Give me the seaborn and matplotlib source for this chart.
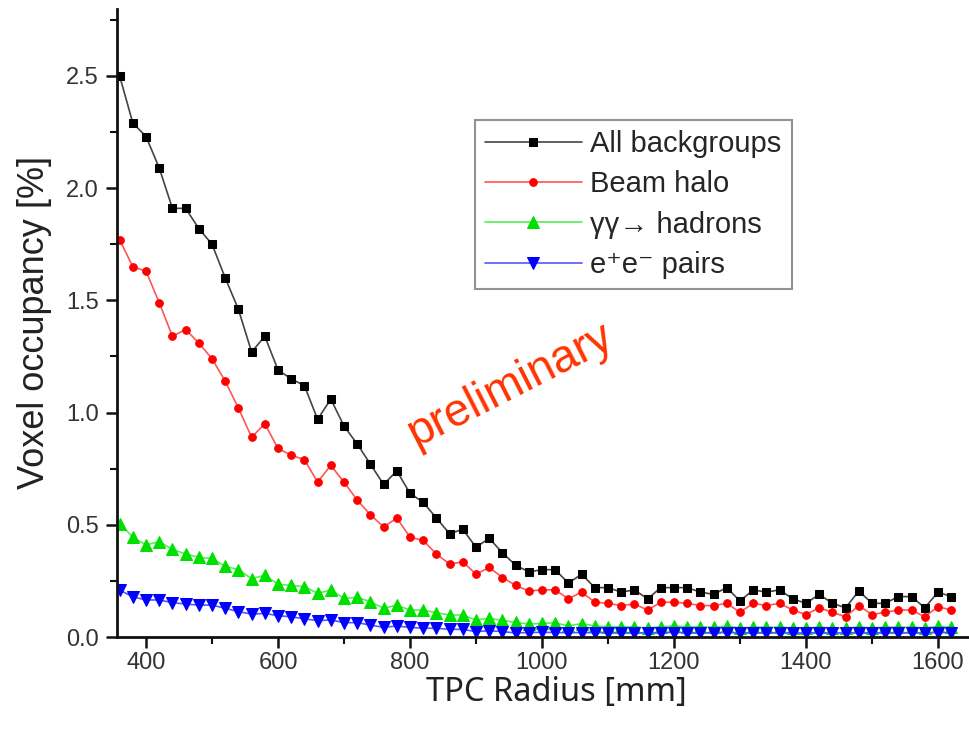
import numpy as np
import pandas as pd
import matplotlib
matplotlib.use("Agg")
import matplotlib.pyplot as plt
import seaborn as sns
from matplotlib.ticker import MultipleLocator

# ---------------- data ----------------
radius = list(range(360, 1621, 20))

all_bkg = [2.50, 2.29, 2.23, 2.09, 1.91, 1.91, 1.82, 1.75, 1.60, 1.46,
           1.27, 1.34, 1.19, 1.15, 1.12, 0.97, 1.06, 0.94, 0.86, 0.77,
           0.68, 0.74, 0.64, 0.60, 0.53, 0.46, 0.48, 0.40, 0.44, 0.375,
           0.32, 0.29, 0.30, 0.30, 0.24, 0.28, 0.22, 0.22, 0.20, 0.21,
           0.17, 0.22, 0.22, 0.22, 0.20, 0.19, 0.22, 0.16, 0.21, 0.20,
           0.21, 0.17, 0.15, 0.19, 0.15, 0.13, 0.205, 0.15, 0.15, 0.18,
           0.18, 0.13, 0.20, 0.18]

beam_halo = [1.77, 1.65, 1.63, 1.49, 1.34, 1.37, 1.31, 1.24, 1.14, 1.02,
             0.89, 0.95, 0.84, 0.81, 0.79, 0.69, 0.765, 0.69, 0.61, 0.545,
             0.49, 0.53, 0.445, 0.43, 0.37, 0.325, 0.335, 0.28, 0.31, 0.265,
             0.23, 0.205, 0.21, 0.21, 0.17, 0.20, 0.155, 0.15, 0.14, 0.147,
             0.12, 0.155, 0.155, 0.15, 0.14, 0.14, 0.15, 0.11, 0.15, 0.14,
             0.15, 0.12, 0.10, 0.13, 0.11, 0.09, 0.14, 0.10, 0.11, 0.12,
             0.12, 0.09, 0.135, 0.12]

gg_hadrons = [0.505, 0.445, 0.41, 0.425, 0.39, 0.37, 0.355, 0.35, 0.315, 0.30,
              0.26, 0.275, 0.235, 0.23, 0.224, 0.195, 0.209, 0.172, 0.177, 0.157,
              0.128, 0.142, 0.12, 0.12, 0.108, 0.098, 0.098, 0.076, 0.083, 0.074,
              0.065, 0.058, 0.061, 0.063, 0.049, 0.060, 0.049, 0.046, 0.046, 0.046,
              0.040, 0.046, 0.049, 0.046, 0.046, 0.043, 0.049, 0.040, 0.044, 0.044,
              0.044, 0.040, 0.040, 0.044, 0.040, 0.040, 0.045, 0.040, 0.044, 0.044,
              0.044, 0.040, 0.048, 0.044]

ee_pairs = [0.209, 0.179, 0.165, 0.165, 0.153, 0.147, 0.142, 0.142, 0.128, 0.113,
            0.102, 0.105, 0.095, 0.090, 0.081, 0.073, 0.076, 0.064, 0.064, 0.053,
            0.043, 0.049, 0.043, 0.039, 0.039, 0.034, 0.034, 0.024, 0.028, 0.024,
            0.018, 0.020, 0.021, 0.020, 0.019, 0.020, 0.019, 0.020, 0.019, 0.019,
            0.018, 0.020, 0.020, 0.019, 0.019, 0.019, 0.020, 0.018, 0.019, 0.019,
            0.019, 0.018, 0.018, 0.019, 0.018, 0.018, 0.019, 0.018, 0.019, 0.019,
            0.019, 0.018, 0.020, 0.019]

series_names = ["All backgroups", "Beam halo", "\u03b3\u03b3\u2192 hadrons", "e\u207ae\u207b pairs"]
x_ticks = [400, 600, 800, 1000, 1200, 1400, 1600]
y_ticks = [0.0, 0.5, 1.0, 1.5, 2.0, 2.5]

# ---------------- styling ----------------
sns.set_style("ticks")
plt.rcParams["font.family"] = ["Liberation Sans", "DejaVu Sans"]

fig = plt.figure(figsize=(9.70, 7.29), dpi=100)
ax = fig.add_axes([0.1206, 0.1262, 0.877, 0.862])

styles = [
    dict(color="#000000", line="#444444", marker="s", ms=6.0),
    dict(color="#ff0000", line="#ff5555", marker="o", ms=5.5),
    dict(color="#00e000", line="#55ee55", marker="^", ms=8.0),
    dict(color="#0000ff", line="#5555ff", marker="v", ms=8.0),
]
data = [all_bkg, beam_halo, gg_hadrons, ee_pairs]

for name, vals, st in zip(series_names, data, styles):
    df = pd.DataFrame({"r": radius, "v": vals})
    sns.lineplot(data=df, x="r", y="v", ax=ax, color=st["line"], lw=1.2,
                 marker=st["marker"], markersize=st["ms"],
                 markerfacecolor=st["color"], markeredgecolor=st["color"],
                 label=name)

ax.set_xlim(356, 1645)
ax.set_ylim(0, 2.8)
ax.set_xticks(x_ticks)
ax.set_yticks(y_ticks)
ax.set_yticklabels([f"{t:.1f}" for t in y_ticks])
ax.xaxis.set_minor_locator(MultipleLocator(100))
ax.yaxis.set_minor_locator(MultipleLocator(0.25))

for s in ["top", "right"]:
    ax.spines[s].set_visible(False)
for s in ["left", "bottom"]:
    ax.spines[s].set_linewidth(2.0)
    ax.spines[s].set_color("#111111")

ax.tick_params(axis="both", which="major", direction="out", length=8, width=1.8,
               labelsize=17, labelcolor="#333333", color="#111111", pad=5)
ax.tick_params(axis="x", which="major", pad=3)
ax.tick_params(axis="both", which="minor", direction="out", length=5, width=1.5,
               color="#111111")

ax.set_xlabel("TPC Radius [mm]", fontsize=23.5, family=["Noto Sans", "DejaVu Sans"],
              color="#222222")
ax.xaxis.set_label_coords(0.517, -0.062)
ax.set_ylabel("Voxel occupancy [%]", fontsize=26, color="#222222", labelpad=10)

leg = ax.legend(loc="upper left", bbox_to_anchor=(0.421, 0.823), borderaxespad=0,
                fontsize=21, frameon=True, fancybox=False, handlelength=3.3,
                labelspacing=0.42, handletextpad=0.3, borderpad=0.35)
leg.get_frame().set_edgecolor("#777777")
leg.get_frame().set_linewidth(1.5)

ax.text(951, 1.12, "preliminary", rotation=27, color="#ff3300", fontsize=33,
        ha="center", va="center")

fig.savefig("out.png", dpi=100)
